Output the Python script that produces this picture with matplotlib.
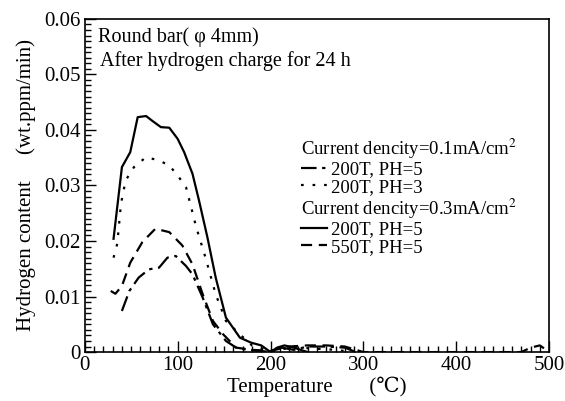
import matplotlib
matplotlib.use("Agg")
import matplotlib.pyplot as plt
from matplotlib.ticker import MultipleLocator, FuncFormatter
from matplotlib.lines import Line2D

plt.rcParams['font.family'] = ['Liberation Serif', 'DejaVu Serif']
plt.rcParams['mathtext.fontset'] = 'stix'

# 0.1 mA/cm2, 200T, PH=5 (dash-dot)
t_a = [40, 48, 58, 69, 80, 89, 98, 109, 116, 127, 138, 152, 163, 175, 190, 200, 212, 225, 240, 260, 280, 292]
h_a = [0.0074, 0.0110, 0.0134, 0.0149, 0.0152, 0.0170, 0.0173, 0.0155, 0.0140, 0.0098, 0.0050,
       0.0020, 0.0008, 0.0004, 0.0002, 0.0, 0.0008, 0.0004, 0.0010, 0.0010, 0.0008, 0.0]

# 0.1 mA/cm2, 200T, PH=3 (dotted)
t_b = [31, 35, 39, 44, 53, 66, 80, 91, 100, 109, 120, 130, 141, 152, 167, 180, 195, 205, 215, 230, 250, 270, 290]
h_b = [0.0170, 0.0195, 0.0267, 0.0309, 0.0333, 0.0351, 0.0345, 0.0336, 0.0318, 0.0297, 0.0225,
       0.0170, 0.0104, 0.0056, 0.0032, 0.0012, 0.0004, 0.0002, 0.0006, 0.0008, 0.0006, 0.0004, 0.0]

# 0.3 mA/cm2, 200T, PH=5 (solid)
t_c = [31, 40, 49, 57, 66, 73, 82, 91, 100, 107, 116, 123, 132, 141, 152, 167, 179, 190, 200, 207, 215, 225, 240]
h_c = [0.0204, 0.0333, 0.0360, 0.0423, 0.0425, 0.0416, 0.0405, 0.0404, 0.0384, 0.0360, 0.0321,
       0.0273, 0.0207, 0.0134, 0.0062, 0.0026, 0.0017, 0.0012, 0.0, 0.0008, 0.0012, 0.0008, 0.0]

# 0.3 mA/cm2, 550T, PH=5 (dashed)
t_d = [28, 33, 40, 49, 62, 76, 91, 105, 116, 127, 138, 149, 163, 180, 200, 220, 240, 260, 280, 300,
       470, 480, 490, 500]
h_d = [0.0110, 0.0105, 0.0119, 0.0161, 0.0198, 0.0222, 0.0216, 0.0192, 0.0158, 0.0104, 0.0056,
       0.0032, 0.0008, 0.0004, 0.0002, 0.0010, 0.0012, 0.0012, 0.0010, 0.0,
       0.0, 0.0008, 0.0012, 0.0]

fig = plt.figure(figsize=(5.65, 4.01), dpi=100)
ax = fig.add_axes([0.150, 0.122, 0.822, 0.831])

lw = 1.6
dd = (7, 2.5, 1.5, 2.5)
dt = (1.2, 4.0)
ds = (5, 3)
ax.plot(t_a, h_a, color='black', lw=lw, dashes=dd)
ax.plot(t_b, h_b, color='black', lw=lw, dashes=dt)
ax.plot(t_c, h_c, color='black', lw=lw)
ax.plot(t_d, h_d, color='black', lw=lw, dashes=ds)

ax.set_xlim(0, 500)
ax.set_ylim(0, 0.06)
ax.xaxis.set_major_locator(MultipleLocator(100))
ax.xaxis.set_minor_locator(MultipleLocator(10))
ax.yaxis.set_major_locator(MultipleLocator(0.01))
ax.yaxis.set_minor_locator(MultipleLocator(0.001))
ax.yaxis.set_major_formatter(FuncFormatter(lambda v, p: '0' if abs(v) < 1e-9 else f'{v:.2f}'))
ax.tick_params(which='both', direction='in', top=False, right=False, labelsize=15, width=1, pad=3)
ax.tick_params(which='major', length=8)
ax.tick_params(which='minor', length=4)
for s in ax.spines.values():
    s.set_linewidth(1.2)

ax.set_xlabel('Temperature       (\u2103)', fontsize=15, labelpad=1)
ax.set_ylabel('Hydrogen content     (wt.ppm/min)', fontsize=15, labelpad=6)

ax.text(0.028, 0.945, 'Round bar( \u03c6 4mm)', transform=ax.transAxes, fontsize=14.5, va='center')
ax.text(0.032, 0.873, 'After hydrogen charge for 24 h', transform=ax.transAxes, fontsize=14.5, va='center')

h1 = [Line2D([], [], color='black', lw=lw, dashes=dd),
      Line2D([], [], color='black', lw=lw, dashes=dt)]
h2 = [Line2D([], [], color='black', lw=lw),
      Line2D([], [], color='black', lw=lw, dashes=ds)]
common = dict(frameon=False, fontsize=13.5, title_fontsize=13.5, handlelength=1.4,
              handletextpad=0.2, labelspacing=0.0, borderpad=0, borderaxespad=0,
              alignment='left', loc='upper left')
leg1 = ax.legend(h1, ['200T, PH=5', '200T, PH=3'], title='Current dencity=0.1mA/cm$^2$',
                 bbox_to_anchor=(0.466, 0.645), **common)
ax.add_artist(leg1)
ax.legend(h2, ['200T, PH=5', '550T, PH=5'], title='Current dencity=0.3mA/cm$^2$',
          bbox_to_anchor=(0.466, 0.465), **common)

fig.savefig('out.png', dpi=100)
